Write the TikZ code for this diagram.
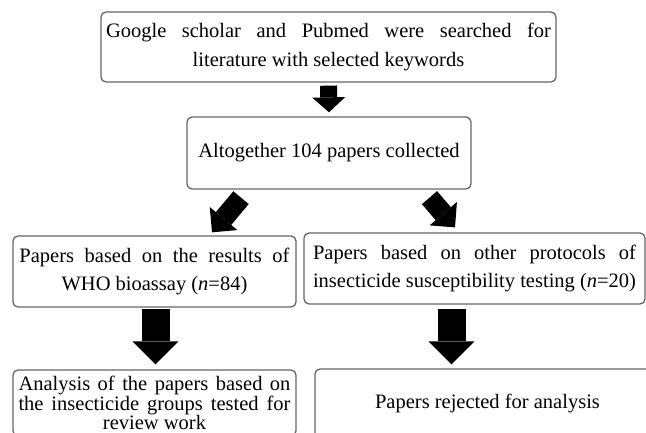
\documentclass[tikz,border=0pt]{standalone}
\usepackage{fontspec}
\setmainfont{Liberation Serif}
\usetikzlibrary{arrows.meta,calc}
\begin{document}
\begin{tikzpicture}[x=1pt,y=1pt,
  flowbox/.style={draw=black!60, line width=1.3pt, rounded corners=5pt, fill=white,
    inner sep=0pt, align=center, font=\fontsize{20.5}{29}\selectfont},
  tightbox/.style={flowbox, font=\fontsize{20.5}{18}\selectfont},
  smallblock/.style={line width=17pt, line cap=butt,
    -{Triangle[width=33pt,length=15pt,line width=0pt]}},
  midblock/.style={line width=20pt, line cap=butt,
    -{Triangle[width=36pt,length=18pt,line width=0pt]}},
  bigblock/.style={line width=28pt, line cap=butt,
    -{Triangle[width=46pt,length=23pt,line width=0pt]}}]
\useasboundingbox (0,0) rectangle (646,433);
\fill[white] (0,0) rectangle (646,433);

\node[flowbox, minimum width=455pt, minimum height=70pt] (b1) at (328.5,386)
  {\makebox[445pt][s]{Google scholar and Pubmed were searched for}\\literature with selected keywords};
\node[flowbox, minimum width=284pt, minimum height=72pt] (b2) at (329,280)
  {Altogether 104 papers collected};
\node[flowbox, minimum width=283pt, minimum height=71pt] (b3) at (154.5,161.5)
  {\makebox[270pt][s]{Papers based on the results of}\\WHO bioassay (\textit{n}=84)};
\node[flowbox, minimum width=341pt, minimum height=71pt] (b4) at (474.5,164.5)
  {\makebox[323pt][s]{Papers based on other protocols of}\\insecticide susceptibility testing (\textit{n}=20)};
\node[tightbox, minimum width=283pt, minimum height=66pt] (b5) at (154.5,30)
  {\makebox[272pt][s]{Analysis of the papers based on}\\\makebox[272pt][s]{the insecticide groups tested for}\\review work};
\node[flowbox, minimum width=345pt, minimum height=70pt] (b6) at (487.5,29)
  {Papers rejected for analysis};

\draw[smallblock] ($(b1.south)+(0,-3)$) -- ($(b2.north)+(0,4)$);
\draw[midblock] ($(b2.south)+(-88,-8)$) -- ($(b3.north)+(57.5,3)$);
\draw[midblock] ($(b2.south)+(100.5,-8)$) -- ($(b4.north)+(-19.5,5)$);
\draw[bigblock] ($(b3.south)+(1,-1)$) -- ($(b5.north)+(1,5)$);
\draw[bigblock] ($(b4.south)+(-23,-4)$) -- ($(b4.south|-b5.north)+(-23,5)$);
\end{tikzpicture}
\end{document}
